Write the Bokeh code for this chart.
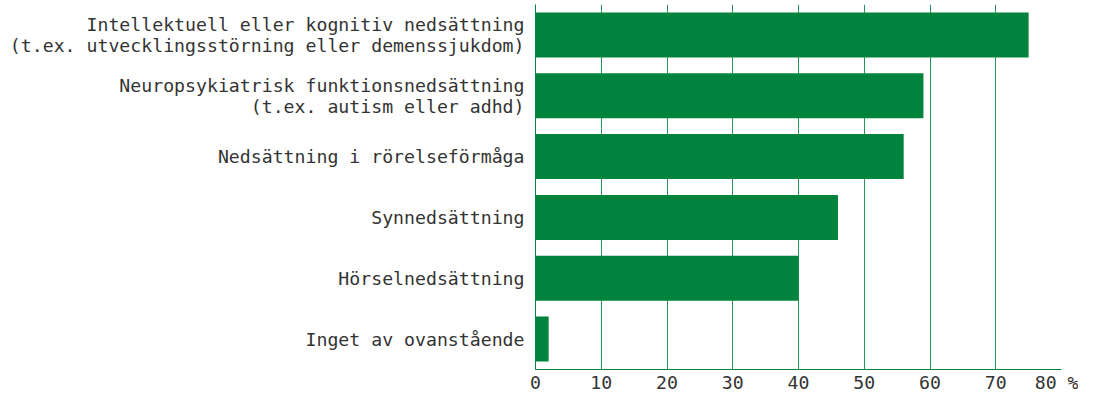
from bokeh.plotting import figure
from bokeh.models import FactorRange, Range1d, FixedTicker, ColumnDataSource
from bokeh.embed import file_html
from bokeh.resources import INLINE

categories = [
    "Intellektuell eller kognitiv nedsättning\n(t.ex. utvecklingsstörning eller demenssjukdom)",
    "Neuropsykiatrisk funktionsnedsättning\n(t.ex. autism eller adhd)",
    "Nedsättning i rörelseförmåga",
    "Synnedsättning",
    "Hörselnedsättning",
    "Inget av ovanstående",
]
values = [75, 59, 56, 46, 40, 2]
x_ticks = [0, 10, 20, 30, 40, 50, 60, 70, 80]
x_tick_labels = ["0", "10", "20", "30", "40", "50", "60", "70", "80 %"]

GREEN = "#00843D"
TEXT = "#333333"
FONT = "DejaVu Sans Mono"

src = ColumnDataSource(dict(cat=categories, val=values))

p = figure(
    width=1078, height=395,
    y_range=FactorRange(*reversed(categories)),
    x_range=Range1d(0, 80),
    output_backend="svg", toolbar_location=None,
    min_border_top=4, min_border_right=17, min_border_left=535, min_border_bottom=0,
)
p.hbar(y="cat", right="val", left=0, height=0.74, source=src,
       fill_color=GREEN, line_color=None)

p.outline_line_color = None
p.ygrid.grid_line_color = None
p.xgrid.grid_line_color = GREEN
p.xgrid.grid_line_alpha = 0.85
p.xgrid.grid_line_width = 1
p.xgrid.ticker = FixedTicker(ticks=x_ticks)

for ax in (p.xaxis, p.yaxis):
    ax.axis_label = None
    ax.axis_label_standoff = 0
    ax.axis_line_color = GREEN
    ax.major_tick_line_color = None
    ax.minor_tick_line_color = None
    ax.major_tick_out = 0
    ax.major_tick_in = 0
    ax.minor_tick_out = 0
    ax.minor_tick_in = 0
    ax.major_label_text_font = FONT
    ax.major_label_text_font_size = "18.2px"
    ax.major_label_text_color = TEXT

p.xaxis.ticker = FixedTicker(ticks=x_ticks)
p.xaxis.major_label_overrides = {t: l for t, l in zip(x_ticks, x_tick_labels)}
p.xaxis.major_label_standoff = 2

p.yaxis.major_label_standoff = 11
p.yaxis.major_label_text_line_height = 1.0

open("out.html", "w").write(file_html(p, INLINE))
